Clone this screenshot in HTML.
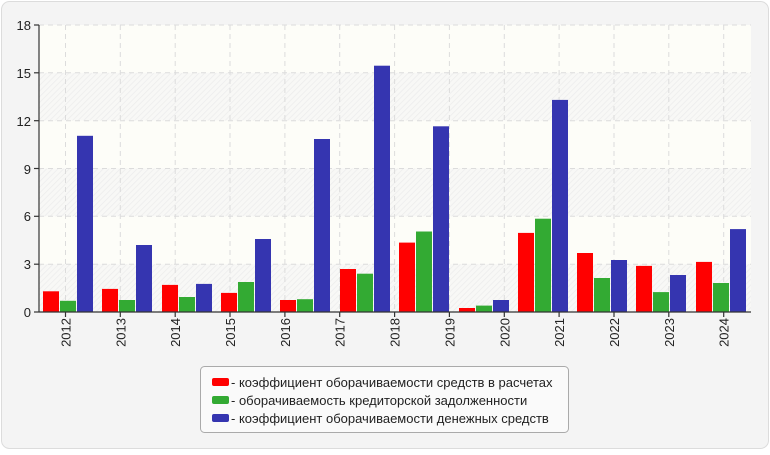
<!DOCTYPE html>
<html><head><meta charset="utf-8"><style>
body{margin:0;background:#fff;}
svg text{font-family:"Liberation Sans",sans-serif;}
</style></head><body>
<svg width="770" height="450" xmlns="http://www.w3.org/2000/svg">
<defs>
<pattern id="h" width="4" height="4" patternUnits="userSpaceOnUse" patternTransform="rotate(45)">
<rect width="4" height="4" fill="#f8f8f6"/><line x1="0" y1="0" x2="0" y2="4" stroke="#ececec" stroke-width="1.5"/>
</pattern>
</defs>
<rect x="1.5" y="1.5" width="767" height="447" rx="8" fill="#f4f4f4" stroke="#dcdcdc"/>
<rect x="39" y="25" width="712" height="287" fill="#fdfdf8"/>
<rect x="39" y="264.2" width="712" height="47.8" fill="url(#h)"/>
<rect x="39" y="168.5" width="712" height="47.8" fill="url(#h)"/>
<rect x="39" y="72.8" width="712" height="47.8" fill="url(#h)"/>
<g stroke="#dcdcdc" stroke-dasharray="5,4" stroke-width="1">
<line x1="39" x2="751" y1="264.2" y2="264.2"/><line x1="39" x2="751" y1="216.3" y2="216.3"/>
<line x1="39" x2="751" y1="168.5" y2="168.5"/><line x1="39" x2="751" y1="120.7" y2="120.7"/>
<line x1="39" x2="751" y1="72.8" y2="72.8"/><line x1="39" x2="751" y1="25" y2="25"/>
<line x1="65.5" x2="65.5" y1="25" y2="312"/><line x1="120.3" x2="120.3" y1="25" y2="312"/>
<line x1="175.2" x2="175.2" y1="25" y2="312"/><line x1="230" x2="230" y1="25" y2="312"/>
<line x1="284.9" x2="284.9" y1="25" y2="312"/><line x1="339.7" x2="339.7" y1="25" y2="312"/>
<line x1="394.6" x2="394.6" y1="25" y2="312"/><line x1="449.4" x2="449.4" y1="25" y2="312"/>
<line x1="504.3" x2="504.3" y1="25" y2="312"/><line x1="559.1" x2="559.1" y1="25" y2="312"/>
<line x1="614" x2="614" y1="25" y2="312"/><line x1="668.8" x2="668.8" y1="25" y2="312"/>
<line x1="723.7" x2="723.7" y1="25" y2="312"/>
</g>
<g fill="#ff0000">
<rect x="43" y="291.3" width="16" height="20.7"/>
<rect x="102" y="288.9" width="16" height="23.1"/>
<rect x="162" y="284.9" width="16" height="27.1"/>
<rect x="221" y="292.9" width="16" height="19.1"/>
<rect x="280" y="300" width="16" height="12"/>
<rect x="340" y="269" width="16" height="43"/>
<rect x="399" y="242.6" width="16" height="69.4"/>
<rect x="459" y="308" width="16" height="4"/>
<rect x="518" y="232.9" width="16" height="79.1"/>
<rect x="577" y="253" width="16" height="59"/>
<rect x="636" y="265.9" width="16" height="46.1"/>
<rect x="696" y="261.9" width="16" height="50.1"/>
</g>
<g fill="#33aa33">
<rect x="60" y="300.8" width="16" height="11.2"/>
<rect x="119" y="300" width="16" height="12"/>
<rect x="179" y="297" width="16" height="15"/>
<rect x="238" y="282" width="16" height="30"/>
<rect x="297" y="299.2" width="16" height="12.8"/>
<rect x="357" y="273.7" width="16" height="38.3"/>
<rect x="416" y="231.5" width="16" height="80.5"/>
<rect x="476" y="305.6" width="16" height="6.4"/>
<rect x="535" y="218.7" width="16" height="93.3"/>
<rect x="594" y="278" width="16" height="34"/>
<rect x="653" y="292.1" width="16" height="19.9"/>
<rect x="713" y="283" width="16" height="29"/>
</g>
<g fill="#3535b0">
<rect x="77" y="135.8" width="16" height="176.2"/>
<rect x="136" y="245" width="16" height="67"/>
<rect x="196" y="283.9" width="16" height="28.1"/>
<rect x="255" y="239" width="16" height="73"/>
<rect x="314" y="139" width="16" height="173"/>
<rect x="374" y="65.7" width="16" height="246.3"/>
<rect x="433" y="126.3" width="16" height="185.7"/>
<rect x="493" y="300" width="16" height="12"/>
<rect x="552" y="99.9" width="16" height="212.1"/>
<rect x="611" y="260" width="16" height="52"/>
<rect x="670" y="275" width="16" height="37"/>
<rect x="730" y="229.1" width="16" height="82.9"/>
</g>
<g stroke="#333" stroke-width="1.2">
<line x1="39" y1="25" x2="39" y2="312"/><line x1="39" y1="312" x2="751" y2="312"/>
<line x1="34" x2="39" y1="25" y2="25"/><line x1="34" x2="39" y1="72.8" y2="72.8"/><line x1="34" x2="39" y1="120.7" y2="120.7"/><line x1="34" x2="39" y1="168.5" y2="168.5"/><line x1="34" x2="39" y1="216.3" y2="216.3"/><line x1="34" x2="39" y1="264.2" y2="264.2"/><line x1="34" x2="39" y1="312" y2="312"/>
<line x1="65.5" x2="65.5" y1="312" y2="317"/><line x1="120.3" x2="120.3" y1="312" y2="317"/>
<line x1="175.2" x2="175.2" y1="312" y2="317"/><line x1="230" x2="230" y1="312" y2="317"/>
<line x1="284.9" x2="284.9" y1="312" y2="317"/><line x1="339.7" x2="339.7" y1="312" y2="317"/>
<line x1="394.6" x2="394.6" y1="312" y2="317"/><line x1="449.4" x2="449.4" y1="312" y2="317"/>
<line x1="504.3" x2="504.3" y1="312" y2="317"/><line x1="559.1" x2="559.1" y1="312" y2="317"/>
<line x1="614" x2="614" y1="312" y2="317"/><line x1="668.8" x2="668.8" y1="312" y2="317"/>
<line x1="723.7" x2="723.7" y1="312" y2="317"/>
</g>
<g font-size="13" fill="#222" text-anchor="end">
<text x="31" y="30">18</text><text x="31" y="78">15</text><text x="31" y="126">12</text><text x="31" y="174">9</text><text x="31" y="221">6</text><text x="31" y="269">3</text><text x="31" y="317">0</text>
</g>
<g font-size="13" fill="#222" text-anchor="end">
<text transform="translate(70.5,318) rotate(-90)">2012</text>
<text transform="translate(125.3,318) rotate(-90)">2013</text>
<text transform="translate(180.2,318) rotate(-90)">2014</text>
<text transform="translate(235,318) rotate(-90)">2015</text>
<text transform="translate(289.9,318) rotate(-90)">2016</text>
<text transform="translate(344.7,318) rotate(-90)">2017</text>
<text transform="translate(399.6,318) rotate(-90)">2018</text>
<text transform="translate(454.4,318) rotate(-90)">2019</text>
<text transform="translate(509.3,318) rotate(-90)">2020</text>
<text transform="translate(564.1,318) rotate(-90)">2021</text>
<text transform="translate(619,318) rotate(-90)">2022</text>
<text transform="translate(673.8,318) rotate(-90)">2023</text>
<text transform="translate(728.7,318) rotate(-90)">2024</text>
</g>
<rect x="200.5" y="366.5" width="368" height="66" rx="4" fill="#fafafa" stroke="#aaa"/>
<rect x="212" y="378" width="17" height="8" rx="2" fill="#ff0000"/>
<rect x="212" y="396" width="17" height="8" rx="2" fill="#33aa33"/>
<rect x="212" y="414" width="17" height="8" rx="2" fill="#3535b0"/>
<g font-size="13" fill="#222">
<text x="231" y="387">- коэффициент оборачиваемости средств в расчетах</text>
<text x="231" y="405">- оборачиваемость кредиторской задолженности</text>
<text x="231" y="423">- коэффициент оборачиваемости денежных средств</text>
</g>
</svg>
</body></html>
